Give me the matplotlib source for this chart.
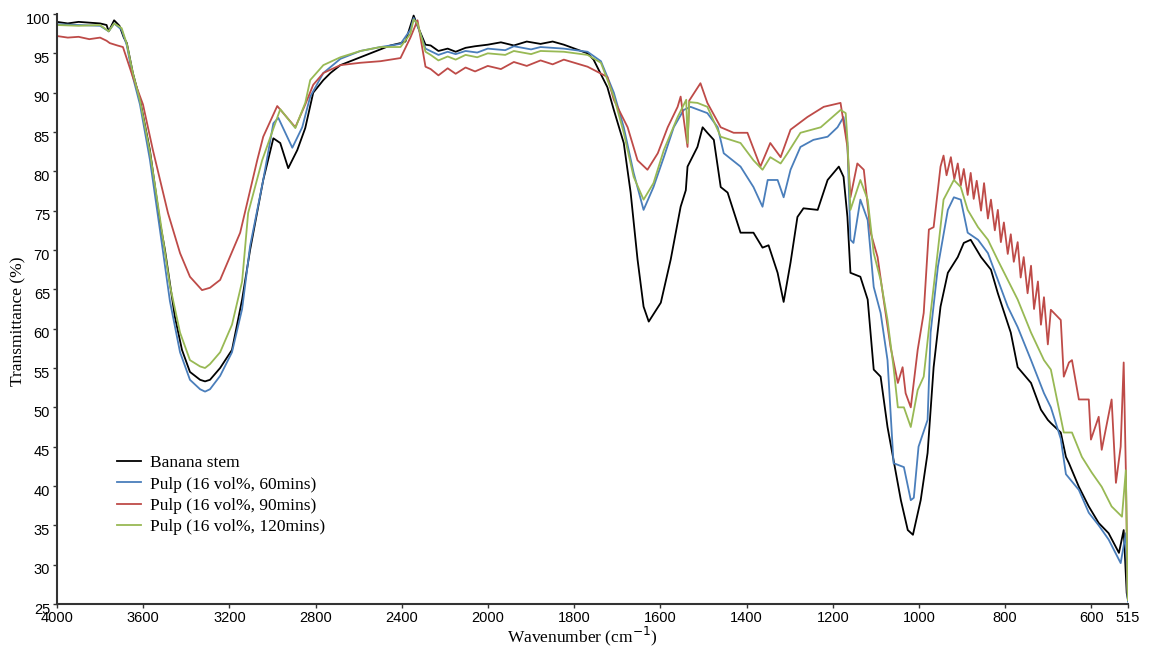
import numpy as np
import matplotlib
matplotlib.use("Agg")
import matplotlib.pyplot as plt
import matplotlib.transforms as mtransforms

# FTIR spectra, values
stem_wn = [4000, 3950, 3900, 3850, 3800, 3770, 3760, 3735, 3710, 3690, 3676, 3648, 3615, 3569,
           3522, 3499, 3453, 3420, 3383, 3336, 3313, 3290, 3243, 3188, 3141, 3104, 3043, 2996,
           2964, 2927, 2885, 2848, 2811, 2764, 2731, 2685, 2592, 2499, 2453, 2406, 2383, 2360,
           2345, 2327, 2290, 2266, 2230, 2187, 2150, 2104, 2060, 2001, 1970, 1940, 1910, 1878,
           1850, 1824, 1769, 1755, 1723, 1708,
           1685, 1669, 1653, 1639, 1627, 1599, 1576, 1553, 1541, 1537, 1514, 1502, 1491, 1476,
           1460, 1444, 1414, 1384, 1363, 1349, 1328, 1314, 1298, 1282, 1268, 1235, 1212, 1186,
           1175, 1166, 1159, 1136, 1119, 1105, 1089, 1073, 1059, 1042, 1026, 1014, 996, 980,
           966, 950, 933, 910, 896, 880, 856, 833, 817, 787, 771, 740, 717, 701, 694, 671, 659,
           652, 629, 606, 583, 560, 536, 525, 518, 515]
stem_t = [99.0, 98.8, 99.0, 98.9, 98.8, 98.6, 97.8, 99.2, 98.5, 97.0, 96.3, 92.5, 89.1, 82.7,
          73.5, 70.0, 61.5, 57.3, 54.5, 53.5, 53.3, 53.5, 55.0, 57.3, 63.7, 70.0, 78.9, 84.2,
          83.6, 80.4, 82.7, 85.5, 90.0, 91.6, 92.5, 93.5, 94.5, 95.5, 96.0, 96.3, 96.5, 98.5,
          99.8, 98.5, 96.1, 96.0, 95.3, 95.6, 95.2, 95.7, 95.9, 96.1, 96.4, 96.0, 96.5, 96.2,
          96.5, 96.1, 95.0, 94.2, 90.7, 87.8,
          83.6, 77.3, 68.8, 62.8, 60.9, 63.3, 68.8, 75.5, 77.6, 80.6, 83.1, 85.6, 84.9, 84.0,
          78.0, 77.3, 72.2, 72.2, 70.3, 70.6, 67.1, 63.4, 68.4, 74.2, 75.3, 75.1, 78.9, 80.6,
          79.3, 74.2, 67.1, 66.6, 63.7, 54.8, 53.9, 47.5, 43.3, 38.2, 34.4, 33.8, 38.2, 44.2,
          55.1, 62.8, 67.1, 69.1, 70.9, 71.3, 69.1, 67.5, 64.5, 59.5, 55.1, 53.1, 49.7, 48.4, 48.0, 46.8, 43.7,
          42.9, 39.9, 37.4, 35.3, 34.0, 31.5, 34.4, 26.4, 25.5]

p60_wn = [4000, 3900, 3800, 3760, 3735, 3700, 3676, 3648, 3615, 3569, 3522, 3476, 3429, 3383,
          3336, 3313, 3290, 3243, 3188, 3141, 3104, 3043, 2996, 2973, 2908, 2862, 2825, 2764,
          2685, 2592, 2499, 2406, 2360, 2345, 2327, 2290, 2230, 2187, 2150, 2104, 2050, 2001,
          1960, 1940, 1900, 1878, 1824,
          1769, 1738, 1708, 1685, 1662, 1639, 1616, 1592, 1569, 1546, 1530, 1491, 1467, 1453,
          1414, 1384, 1363, 1351, 1328, 1314, 1298, 1275, 1245, 1212, 1189, 1175, 1166, 1159,
          1152, 1136, 1119, 1105, 1089, 1073, 1059, 1035, 1019, 1012, 1001, 980, 973, 956, 933,
          919, 903, 887, 863, 840, 817, 794, 771, 740, 710, 694, 671, 659, 629, 606, 583, 560,
          532, 520, 516, 515]
p60_t = [98.7, 98.6, 98.5, 97.8, 98.8, 98.0, 96.0, 92.0, 88.5, 81.5, 72.5, 63.5, 57.0, 53.5,
         52.3, 52.0, 52.3, 54.0, 57.0, 62.5, 70.5, 78.9, 86.1, 86.8, 83.0, 85.6, 89.5, 92.5,
         94.3, 95.3, 95.8, 96.2, 98.0, 99.5, 98.5, 95.6, 94.8, 95.2, 94.9, 95.3, 95.1, 95.6,
         95.4, 95.9, 95.5, 95.8, 95.6,
         95.2, 94.0, 90.0, 85.6, 79.8, 75.1, 78.0, 81.8, 85.6, 87.8, 88.2, 87.4, 85.6, 82.3,
         80.6, 78.0, 75.5, 78.9, 78.9, 76.7, 80.2, 83.1, 84.0, 84.4, 85.6, 86.9, 83.6, 71.3,
         70.9, 76.4, 73.8, 65.3, 62.0, 56.0, 42.9, 42.4, 38.2, 38.5, 45.0, 48.4, 59.5, 67.9, 75.1,
         76.7, 76.4, 72.2, 71.3, 69.6, 66.2, 62.8, 60.2, 56.0, 51.8, 50.0, 46.0, 41.5, 39.5, 36.6, 35.0, 33.2,
         30.2, 34.0, 26.0, 25.3]

p90_wn = [4000, 3950, 3900, 3850, 3800, 3770, 3755, 3720, 3694, 3648, 3601, 3555, 3485, 3429,
          3383, 3327, 3290, 3243, 3150, 3071, 3043, 2978, 2894, 2848, 2811, 2764, 2685, 2592,
          2499, 2406, 2360, 2327, 2290, 2266, 2230, 2187, 2150, 2104, 2060, 2001, 1970, 1940,
          1910, 1878, 1850, 1824, 1769, 1723,
          1708, 1676, 1653, 1630, 1606, 1583, 1560, 1553, 1537, 1533, 1507, 1491, 1460, 1430,
          1398, 1368, 1345, 1321, 1298, 1259, 1221, 1182, 1166, 1159, 1143, 1128, 1112, 1096,
          1082, 1066, 1049, 1038, 1031, 1019, 1003, 989, 977, 966, 950, 943, 936, 926, 918, 910,
          903, 896, 887, 880, 873, 866, 856, 849, 840, 833, 824, 817, 810, 803, 794, 787, 780,
          771, 764, 757, 748, 740, 733, 724, 717, 710, 701, 694, 671, 664, 652, 645, 629, 606,
          601, 583, 576, 553, 543, 532, 525, 520, 516, 515]
p90_t = [97.2, 97.0, 97.1, 96.8, 97.0, 96.6, 96.3, 96.0, 95.8, 92.0, 88.5, 82.7, 74.7, 69.6,
         66.6, 64.9, 65.2, 66.2, 72.2, 81.4, 84.4, 88.3, 85.6, 88.5, 91.0, 92.5, 93.5, 93.8,
         94.0, 94.4, 97.0, 99.2, 93.3, 93.0, 92.2, 93.1, 92.4, 93.2, 92.7, 93.4, 93.0, 93.9,
         93.4, 94.1, 93.6, 94.2, 93.3, 92.0,
         89.1, 85.6, 81.4, 80.2, 82.3, 85.6, 88.2, 89.5, 83.1, 89.0, 91.2, 88.7, 85.6, 84.9,
         84.9, 80.6, 83.6, 81.8, 85.3, 86.9, 88.2, 88.7, 83.1, 76.7, 81.0, 80.2, 72.2, 69.1,
         63.7, 57.7, 53.1, 55.1, 51.8, 50.0, 57.3, 62.0, 72.6, 72.9, 80.6, 82.0, 79.5, 81.8, 79.0, 81.0,
         78.2, 80.3, 77.0, 79.8, 76.5, 78.8, 75.0, 78.5, 74.0, 76.4, 72.5, 75.1, 71.0, 73.5, 69.5, 72.0, 68.5,
         71.0, 66.5, 69.1, 64.5, 68.0, 62.5, 66.0, 60.5, 64.0, 58.0, 62.4, 61.1, 53.9, 55.7, 56.0, 51.0, 51.0,
         45.9, 48.8, 44.6, 51.0, 40.4, 45.0, 55.7, 42.0, 27.0, 25.5]

p120_wn = [4000, 3900, 3800, 3760, 3735, 3700, 3676, 3648, 3615, 3569, 3522, 3476, 3429, 3383,
           3336, 3313, 3290, 3243, 3188, 3141, 3113, 3048, 2964, 2894, 2848, 2825, 2764, 2685,
           2592, 2499, 2406, 2360, 2345, 2327, 2290, 2266, 2230, 2187, 2150, 2104, 2050, 2001,
           1960, 1940, 1900, 1878, 1824,
           1769, 1738, 1708, 1685, 1662, 1639, 1616, 1592, 1560, 1540, 1537, 1533, 1514, 1491,
           1460, 1414, 1384, 1363, 1345, 1321, 1305, 1275, 1228, 1182, 1170, 1166, 1159, 1136,
           1119, 1105, 1089, 1073, 1059, 1049, 1035, 1019, 1003, 989, 973, 956, 943, 919, 903,
           887, 863, 840, 817, 794, 771, 740, 710, 694, 664, 645, 622, 599, 576, 553, 529, 520,
           516, 515]
p120_t = [98.6, 98.5, 98.6, 97.8, 98.8, 98.2, 96.2, 92.5, 89.0, 82.5, 74.0, 65.5, 59.5, 56.0,
          55.2, 55.0, 55.5, 57.0, 60.5, 66.0, 74.7, 81.4, 87.9, 85.5, 88.7, 91.6, 93.5, 94.5,
          95.3, 95.8, 95.8, 97.5, 99.3, 98.8, 95.2, 94.8, 94.1, 94.6, 94.2, 94.8, 94.5, 95.0,
          94.8, 95.3, 94.9, 95.3, 95.2,
          94.8, 93.8, 89.5, 84.9, 79.3, 76.4, 78.5, 82.7, 86.9, 89.1, 83.6, 88.8, 88.7, 88.2,
          84.4, 83.6, 81.4, 80.2, 81.8, 81.0, 82.3, 84.9, 85.6, 87.8, 87.4, 84.0, 75.1, 78.9,
          76.4, 69.6, 66.2, 61.1, 55.1, 50.0, 50.0, 47.5, 52.2, 53.9, 62.0, 70.0, 76.4, 78.9, 78.0,
          75.1, 72.9, 71.3, 68.7, 66.2, 63.7, 59.5, 56.0, 54.8, 46.8, 46.8, 43.7, 41.7, 39.9, 37.4, 36.1, 42.0,
          27.0, 25.5]

series = [
    (stem_wn, stem_t, "#000000", "Banana stem"),
    (p60_wn, p60_t, "#4a7ebb", "Pulp (16 vol%, 60mins)"),
    (p90_wn, p90_t, "#be4b48", "Pulp (16 vol%, 90mins)"),
    (p120_wn, p120_t, "#98b954", "Pulp (16 vol%, 120mins)"),
]

xticks = [4000, 3600, 3200, 2800, 2400, 2000, 1800, 1600, 1400, 1200, 1000, 800, 600, 515]
yticks = list(range(25, 101, 5))


# below 2000 cm-1 the axis is stretched by a factor of two
def fwd(x):
    x = np.asarray(x, dtype=float)
    return np.where(x >= 2000, x, 2 * x - 2000)


def inv(u):
    u = np.asarray(u, dtype=float)
    return np.where(u >= 2000, u, (u + 2000) / 2)


fig = plt.figure(figsize=(11.53, 6.48), dpi=100)
ax = fig.add_axes([57 / 1153, 1 - 604 / 648, (1128 - 57) / 1153, (604 - 14) / 648])
ax.set_xscale("function", functions=(fwd, inv))

for wn, t, c, lab in series:
    ax.plot(wn, t, color=c, lw=1.3, label=lab)

ax.set_xlim(4000, 515)
ax.set_ylim(25, 100)
ax.set_xticks(xticks)
ax.set_xticklabels([str(v) for v in xticks])
ax.set_yticks(yticks)
ax.minorticks_off()

for s in ["top", "right"]:
    ax.spines[s].set_visible(False)
for s in ["left", "bottom"]:
    ax.spines[s].set_color("#333333")
    ax.spines[s].set_linewidth(1.5)

ax.tick_params(axis="both", direction="out", length=3, width=1, color="#333333",
               labelsize=10.5, pad=2)
shift = mtransforms.ScaledTranslation(0, -4 / 100, fig.dpi_scale_trans)
for lbl in ax.get_yticklabels():
    lbl.set_family("Liberation Sans")
    lbl.set_transform(lbl.get_transform() + shift)
for lbl in ax.get_xticklabels():
    lbl.set_family("Liberation Sans")

ax.set_xlabel("Wavenumber (cm$^{-1}$)", family="Liberation Serif", fontsize=12.5, labelpad=0)
ax.set_ylabel("Transmittance (%)", family="Liberation Serif", fontsize=12.5)
ax.xaxis.set_label_coords(0.49, -0.035)
ax.yaxis.set_label_coords(-0.029, 0.48)

leg = ax.legend(loc="upper left", bbox_to_anchor=(117 / 1153, 1 - 455 / 648),
                bbox_transform=fig.transFigure, frameon=False, handlelength=1.4,
                handletextpad=0.5, labelspacing=0.3, borderpad=0, borderaxespad=0,
                prop={"family": "Liberation Serif", "size": 12.5})

fig.savefig("out.png", dpi=100)
